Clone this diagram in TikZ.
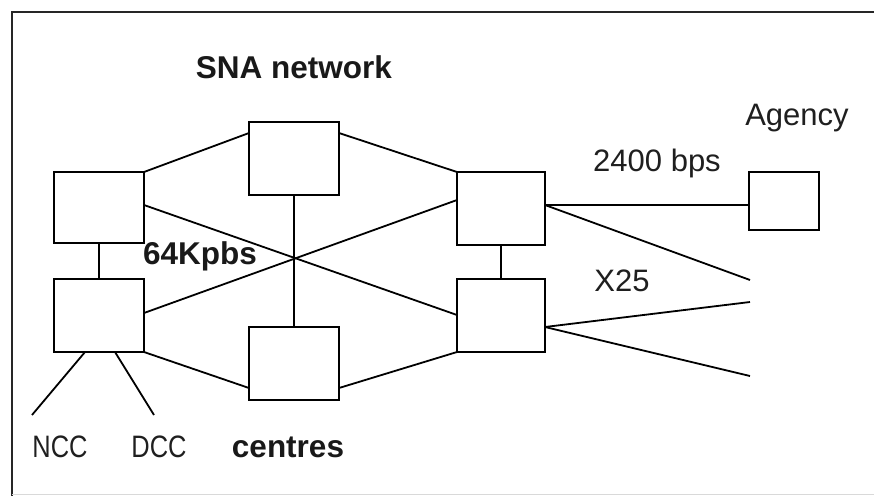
\documentclass[tikz,border=0pt]{standalone}
\usepackage{fontspec}
\setmainfont{Liberation Sans}
\newfontfamily\narrowfont[FakeStretch=0.82]{Liberation Sans}
\usetikzlibrary{calc}
\begin{document}
\begin{tikzpicture}[x=1pt,y=-1pt,
  every node/.style={inner sep=0pt,outer sep=0pt},
  site/.style={draw=black,line width=2pt,rectangle,minimum width=90pt,minimum height=73pt},
  link/.style={draw=black,line width=1.8pt},
  plainlabel/.style={anchor=base,font=\fontsize{31}{31}\selectfont,text=black!88},
  narrowlabel/.style={anchor=base,font=\narrowfont\fontsize{31}{31}\selectfont,text=black!88},
  boldlabel/.style={anchor=base,font=\bfseries\fontsize{31.5}{31.5}\selectfont,text=black!90}]
\useasboundingbox (0,0) rectangle (874,496);
\fill[white] (0,0) rectangle (874,496);

% frame
\draw[line width=2.5pt,black!85] (12,496) -- (12,12) -- (874,12);
\draw[line width=1pt,black!15] (12,494) -- (874,494);

% network nodes
\node[site] (lt) at (99,207.5) [minimum height=71pt] {};
\node[site] (lb) at (99,315.5) {};
\node[site] (tc) at (294,158.5) {};
\node[site] (bc) at (294,363.5) {};
\node[site] (rt) at (501,208.5) [minimum width=88pt] {};
\node[site] (rb) at (501,315.5) [minimum width=88pt] {};
\node[site] (ag) at (784,201) [minimum width=70pt,minimum height=58pt] {};

% free ends
\coordinate (x1) at (750,280);
\coordinate (x2) at (750,302);
\coordinate (x3) at (750,376);
\coordinate (ncc) at (32,415);
\coordinate (dcc) at (154,415);

% vertical links
\draw[link] (lt.south) -- (lb.north);
\draw[link] (tc.south) -- (bc.north);
\draw[link] (rt.south) -- (rb.north);

% mesh links
\draw[link] (lt.north east) -- ($(tc.north west)+(0,11)$);
\draw[link] ($(tc.north east)+(0,11)$) -- (rt.north west);
\draw[link] ($(lt.north east)+(0,33)$) -- ($(rb.north west)+(0,36)$);
\draw[link] ($(lb.north east)+(0,34)$) -- ($(rt.north west)+(0,28)$);
\draw[link] (lb.south east) -- ($(bc.north west)+(0,61)$);
\draw[link] ($(bc.north east)+(0,61)$) -- (rb.south west);

% outgoing links
\draw[link] ($(rt.north east)+(0,33)$) -- ($(ag.north west)+(0,33)$);
\draw[link] ($(rt.north east)+(0,33)$) -- (x1);
\draw[link] ($(rb.north east)+(0,48)$) -- (x2);
\draw[link] ($(rb.north east)+(0,48)$) -- (x3);
\draw[link] ($(lb.south west)+(31,0)$) -- (ncc);
\draw[link] ($(lb.south west)+(61,0)$) -- (dcc);

% labels
\node[boldlabel] (sna) at (294,78) {SNA network};
\node[boldlabel] (speed) at (200,264) {64Kpbs};
\node[boldlabel] (cen) at (288,457) {centres};
\node[plainlabel] (agl) at (797,125) {Agency};
\node[plainlabel] (bps) at (657,171) {2400 bps};
\node[plainlabel] (x25) at (622,291) {X25};
\node[narrowlabel] (nccl) at (60,457) {NCC};
\node[narrowlabel] (dccl) at (159,457) {DCC};
\end{tikzpicture}
\end{document}
